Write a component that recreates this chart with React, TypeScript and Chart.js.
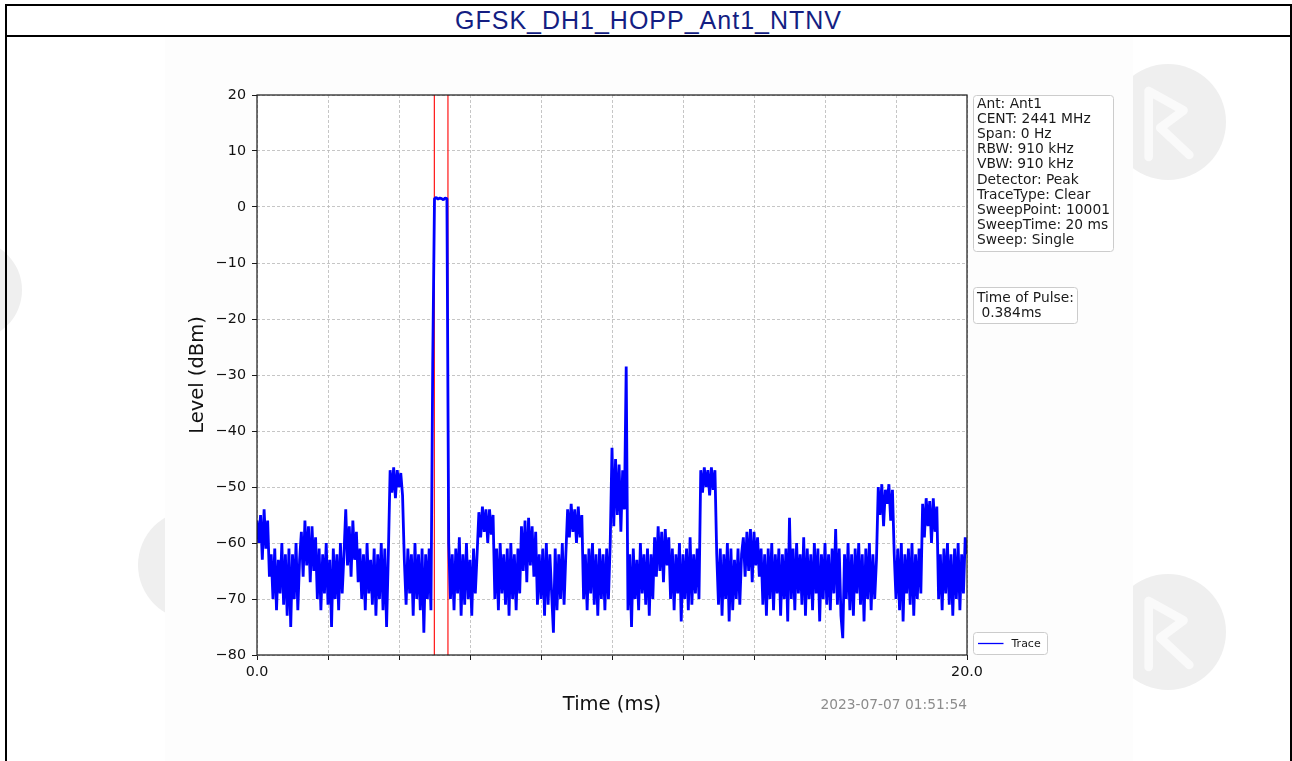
import React, { useEffect, useRef } from 'react';
import { Chart, registerables } from 'chart.js';

Chart.register(...registerables);

const TITLE = 'GFSK_DH1_HOPP_Ant1_NTNV';
const SAMPLE_STEP_MS = 0.05;

// Trace levels (dBm), one value every 0.05 ms (20 values per ms per line)
const traceMs00to05 = [
  -56, -60, -55, -63, -54, -61, -56, -66, -62, -70, -61, -72, -63, -69, -60, -71, -62, -73, -61, -75,
  -62, -70, -60, -72, -63, -58, -66, -56, -64, -57, -67, -57, -65, -59, -70, -61, -72, -62, -69, -60,
  -71, -63, -75, -61, -70, -62, -72, -60, -69, -62, -54, -64, -57, -66, -56, -63, -58, -67, -61, -70,
  -62, -72, -60, -69, -63, -71, -61, -73, -62, -70, -60, -72, -61, -75, -62, -47, -51, -46.5, -52, -47,
  -50, -47.5, -51.5, -63, -71, -61, -69, -62, -73, -60, -70, -62, -72, -61, -76, -62, -70, -61, -72, -28,
];
const traceMs05to10 = [
  1.5, 1.7, 1.4, 1.6, 1.5, 1.3, 1.6, 1.5, -60, -70, -62, -72, -61, -69, -59, -73, -62, -71, -60, -70,
  -63, -73, -61, -69, -62, -54.5, -59, -53.5, -58, -54, -60, -54, -58.5, -55, -70, -61, -72, -60, -69, -62,
  -71, -61, -73, -60, -70, -62, -72, -61, -69, -57, -65, -56, -67, -55.5, -64, -57, -66, -58, -71, -62,
  -70, -61, -73, -60, -71, -62, -69, -76, -61, -72, -62, -70, -60, -71, -62, -54, -59, -53, -58, -54,
  -60, -53.5, -59, -55, -70, -62, -72, -61, -69, -60, -71, -62, -73, -61, -70, -62, -72, -61, -70, -60,
];
const traceMs10to15 = [
  -43, -57, -45, -55, -46, -58, -47, -54, -28.5, -72, -62, -75, -61, -70, -63, -72, -60, -69, -62, -71,
  -61, -73, -62, -70, -59, -66, -57, -65, -58, -67, -57.5, -64, -59, -70, -61, -72, -62, -69, -60, -74,
  -62, -70, -61, -72, -59, -71, -62, -69, -61, -70, -47, -51, -46.5, -50, -47, -51.5, -46.5, -50.5, -47, -62,
  -71, -61, -73, -62, -70, -60, -74, -61, -72, -63, -70, -61, -71, -62, -59, -66, -58, -65, -57.5, -67,
  -58, -64, -59, -66, -61, -71, -62, -73, -61, -70, -60, -72, -62, -69, -61, -73, -62, -70, -61, -74,
];
const traceMs15to20 = [
  -55.5, -70, -61, -72, -60, -69, -62, -71, -59, -73, -61, -70, -62, -72, -60, -69, -61, -74, -62, -70,
  -60, -71, -62, -72, -61, -69, -57.5, -71, -61, -73, -77, -62, -70, -60, -72, -62, -73, -61, -69, -60,
  -71, -62, -74, -61, -70, -60, -72, -62, -70, -63, -50, -55, -49.5, -57, -50.5, -53, -49.5, -56, -50.5, -62,
  -70, -61, -72, -60, -74, -62, -69, -61, -71, -60, -73, -62, -70, -61, -69, -53, -59, -52, -57, -52.5,
  -60, -52, -58, -53.5, -70, -62, -72, -61, -69, -60, -71, -62, -73, -61, -70, -60, -72, -62, -69, -59,
  -62,
];

const traceLevels = [...traceMs00to05, ...traceMs05to10, ...traceMs10to15, ...traceMs15to20];
const traceTimes = traceLevels.map((_, i) => Number((i * SAMPLE_STEP_MS).toFixed(2)));

const pulseMarkersMs = [4.995, 5.379];

const xMin = 0;
const xMax = 20;
const xStep = 2;
const xLabeledTicks = [0, 20];
const xLabelTexts = ['0.0', '20.0'];

const yMin = -80;
const yMax = 20;
const yStep = 10;
const yTickValues = [-80, -70, -60, -50, -40, -30, -20, -10, 0, 10, 20];
const yTickTexts = ['\u221280', '\u221270', '\u221260', '\u221250', '\u221240', '\u221230', '\u221220', '\u221210', '0', '10', '20'];

const xTitle = 'Time (ms)';
const yTitle = 'Level (dBm)';
const infoLines = [
  'Ant: Ant1',
  'CENT: 2441 MHz',
  'Span: 0 Hz',
  'RBW: 910 kHz',
  'VBW: 910 kHz',
  'Detector: Peak',
  'TraceType: Clear',
  'SweepPoint: 10001',
  'SweepTime: 20 ms',
  'Sweep: Single',
];
const pulseInfoLines = ['Time of Pulse:', ' 0.384ms'];
const legendLabel = 'Trace';
const timestampText = '2023-07-07 01:51:54';

const FONT = "'DejaVu Sans', 'Noto Sans', sans-serif";

function roundRect(ctx: CanvasRenderingContext2D, x: number, y: number, w: number, h: number, r: number) {
  ctx.beginPath();
  ctx.moveTo(x + r, y);
  ctx.lineTo(x + w - r, y);
  ctx.arcTo(x + w, y, x + w, y + r, r);
  ctx.lineTo(x + w, y + h - r);
  ctx.arcTo(x + w, y + h, x + w - r, y + h, r);
  ctx.lineTo(x + r, y + h);
  ctx.arcTo(x, y + h, x, y + h - r, r);
  ctx.lineTo(x, y + r);
  ctx.arcTo(x, y, x + r, y, r);
  ctx.closePath();
}

const decorPlugin = {
  id: 'decor',
  beforeDraw(chart: any) {
    const { ctx, chartArea } = chart;
    const { left, top, right, bottom } = chartArea;
    ctx.save();
    ctx.fillStyle = '#ffffff';
    ctx.fillRect(left, top, right - left, bottom - top);
    ctx.restore();
  },
  afterDraw(chart: any) {
    const { ctx, chartArea } = chart;
    const { left, top, right, bottom } = chartArea;
    ctx.save();
    // axes frame
    ctx.strokeStyle = '#1a1a1a';
    ctx.lineWidth = 1.2;
    ctx.strokeRect(left, top, right - left, bottom - top);

    // info box
    const bx = right + 6.5;
    ctx.lineWidth = 1;
    ctx.strokeStyle = '#cccccc';
    ctx.fillStyle = 'rgba(255,255,255,0.85)';
    roundRect(ctx, bx, top + 0.5, 140, 156, 3);
    ctx.fill();
    ctx.stroke();
    ctx.fillStyle = '#1a1a1a';
    ctx.font = `13.8px ${FONT}`;
    ctx.textBaseline = 'middle';
    ctx.textAlign = 'left';
    infoLines.forEach((line, i) => {
      ctx.fillText(line, bx + 3.5, top + 9 + i * 15.2);
    });

    // pulse box
    ctx.strokeStyle = '#cccccc';
    ctx.fillStyle = 'rgba(255,255,255,0.85)';
    roundRect(ctx, bx, top + 192.5, 104, 36, 3);
    ctx.fill();
    ctx.stroke();
    ctx.fillStyle = '#1a1a1a';
    pulseInfoLines.forEach((line, i) => {
      ctx.fillText(line, bx + 3.5, top + 203 + i * 15);
    });

    // legend box
    ctx.strokeStyle = '#cccccc';
    ctx.fillStyle = 'rgba(255,255,255,0.85)';
    roundRect(ctx, bx, bottom - 22.5, 74, 22, 3);
    ctx.fill();
    ctx.stroke();
    ctx.strokeStyle = '#0000ff';
    ctx.lineWidth = 1.3;
    ctx.beginPath();
    ctx.moveTo(bx + 4.5, bottom - 11.5);
    ctx.lineTo(bx + 30, bottom - 11.5);
    ctx.stroke();
    ctx.fillStyle = '#1a1a1a';
    ctx.font = `11px ${FONT}`;
    ctx.fillText(legendLabel, bx + 38, bottom - 11);

    // timestamp
    ctx.fillStyle = '#8c8c8c';
    ctx.font = `13.8px ${FONT}`;
    ctx.textAlign = 'right';
    ctx.fillText(timestampText, right, bottom + 50);
    ctx.restore();
  },
};

function Watermark({ cx, cy, r }: { cx: number; cy: number; r: number }) {
  return (
    <svg
      width={r * 2}
      height={r * 2}
      viewBox="0 0 120 120"
      style={{ position: 'absolute', left: cx - r, top: cy - r }}
    >
      <circle cx={60} cy={60} r={60} fill="#efefef" />
      <path
        d="M40 28 L40 96 M40 28 L76 48 L52 66 L82 94"
        fill="none"
        stroke="#fafafa"
        strokeWidth={9}
        strokeLinecap="round"
        strokeLinejoin="round"
      />
    </svg>
  );
}

export default function App() {
  const canvasRef = useRef<HTMLCanvasElement | null>(null);

  useEffect(() => {
    const canvas = canvasRef.current;
    if (!canvas) return;
    Chart.defaults.font.family = FONT;

    const traceData = traceTimes.map((t, i) => ({ x: t, y: traceLevels[i] }));
    const markerSets = pulseMarkersMs.map((m) => ({
      label: 'marker',
      data: [
        { x: m, y: yMin },
        { x: m, y: yMax },
      ],
      borderColor: '#ff0000',
      borderWidth: 1.1,
      pointRadius: 0,
      tension: 0,
      fill: false,
    }));

    const chart = new Chart(canvas, {
      type: 'line',
      data: {
        datasets: [
          {
            label: legendLabel,
            data: traceData,
            borderColor: '#0000ff',
            borderWidth: 2.8,
            borderJoinStyle: 'bevel',
            pointRadius: 0,
            tension: 0,
            fill: false,
          },
          ...markerSets,
        ],
      },
      options: {
        responsive: false,
        animation: false,
        events: [],
        layout: { padding: { left: 17, top: 57, right: 166, bottom: 40 } },
        plugins: {
          legend: { display: false },
          tooltip: { enabled: false },
          title: { display: false },
        },
        scales: {
          x: {
            type: 'linear',
            min: xMin,
            max: xMax,
            afterFit: (s: any) => {
              s.height = 66;
            },
            ticks: {
              stepSize: xStep,
              autoSkip: false,
              maxRotation: 0,
              padding: 4,
              color: '#111111',
              font: { size: 14.3, family: FONT },
              callback: (v: any) => {
                const idx = xLabeledTicks.indexOf(Number(v));
                return idx >= 0 ? xLabelTexts[idx] : '';
              },
            },
            grid: {
              color: '#b8b8b8',
              lineWidth: 0.8,
              tickColor: '#1a1a1a',
              tickLength: 5,
              tickWidth: 1,
              tickBorderDash: [],
            },
            border: { display: false, dash: [3, 2] },
            title: {
              display: true,
              text: xTitle,
              color: '#111111',
              font: { size: 19.5, family: FONT },
              padding: { top: 0, bottom: 4 },
            },
          },
          y: {
            type: 'linear',
            min: yMin,
            max: yMax,
            afterFit: (s: any) => {
              s.width = 75;
            },
            ticks: {
              stepSize: yStep,
              padding: 6,
              color: '#111111',
              font: { size: 14.3, family: FONT },
              callback: (v: any) => {
                const idx = yTickValues.indexOf(Number(v));
                return idx >= 0 ? yTickTexts[idx] : '';
              },
            },
            grid: {
              color: '#b8b8b8',
              lineWidth: 0.8,
              tickColor: '#1a1a1a',
              tickLength: 5,
              tickWidth: 1,
              tickBorderDash: [],
            },
            border: { display: false, dash: [3, 2] },
            title: {
              display: true,
              text: yTitle,
              color: '#111111',
              font: { size: 19.5, family: FONT },
              padding: { top: 4, bottom: 0 },
            },
          },
        },
      },
      plugins: [decorPlugin],
    } as any);

    return () => {
      chart.destroy();
    };
  }, []);

  return (
    <div style={{ position: 'fixed', left: 0, top: 0, width: 1292, height: 761, overflow: 'hidden', background: '#ffffff' }}>
      <Watermark cx={-28} cy={290} r={50} />
      <Watermark cx={1168} cy={122} r={58} />
      <Watermark cx={1168} cy={632} r={58} />
      <Watermark cx={193} cy={565} r={55} />
      <div
        style={{
          position: 'absolute',
          left: 165,
          top: 37,
          width: 968,
          height: 724,
          background: '#fdfdfd',
        }}
      />
      <canvas
        ref={canvasRef}
        width={968}
        height={723}
        style={{ position: 'absolute', left: 165, top: 38, width: 968, height: 723 }}
      />
      <div
        style={{
          position: 'absolute',
          left: 5,
          top: 4,
          width: 1287,
          height: 770,
          border: '2px solid #000',
          boxSizing: 'border-box',
          pointerEvents: 'none',
        }}
      >
        <div
          style={{
            height: 29,
            lineHeight: '29px',
            borderBottom: '2px solid #000',
            textAlign: 'center',
            fontFamily: "'Liberation Sans', Arial, sans-serif",
            fontSize: 25,
            letterSpacing: 1,
            color: '#141e82',
            background: '#ffffff',
          }}
        >
          {TITLE}
        </div>
      </div>
    </div>
  );
}
